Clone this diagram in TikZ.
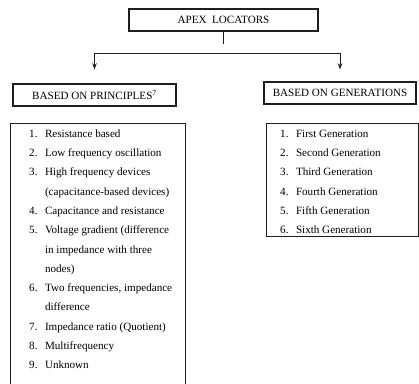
\documentclass[tikz,border=0pt]{standalone}
\usepackage{fontspec}
\setmainfont{Liberation Serif}
\usepackage{tikz}
\usetikzlibrary{arrows.meta,positioning,calc}
\definecolor{ink}{RGB}{30,30,30}
\tikzset{
  head/.style={draw=ink,line width=1.1pt,inner sep=0pt,font=\fontsize{11.1}{13}\selectfont},
  listbox/.style={draw=ink,line width=1pt,anchor=north west,inner sep=0pt},
  items/.style={anchor=north west,inner sep=0pt,font=\fontsize{11.1}{19.3}\selectfont,align=left},
  arr/.style={-{Stealth[length=2.2mm,width=1.6mm]},line width=0.9pt,ink},
  link/.style={line width=0.9pt,ink},
}

\begin{document}
\begin{tikzpicture}[x=1pt,y=-1pt]
  \path[use as bounding box,clip] (0,0) rectangle (419,383);
  % headings
  \node[head,minimum width=189pt,minimum height=22pt] (apex) at (223.5,20) {APEX\ \ LOCATORS};
  \node[head,minimum width=163pt,minimum height=22pt] (prin) at (94.5,95) {BASED ON PRINCIPLES\textsuperscript{7}};
  \node[head,minimum width=152pt,minimum height=22pt] (gen) at (340,93) {BASED ON GENERATIONS};
  % branching
  \coordinate (split) at ($(apex.south)+(0,22)$);
  \draw[link] (apex.south) -- ++(0,12);
  \draw[arr,shorten >=14pt] (split) -| (prin.north);
  \draw[arr,shorten >=12pt] (split) -| (gen.north);
  % lists
  \node[listbox,minimum width=175pt,minimum height=280pt] (plist) at (10,123) {};
  \node[listbox,minimum width=152pt,minimum height=113pt] (glist) at (266,123) {};
  \node[items] (pitems) at ($(plist.north west)+(19,0.5)$) {%
    \begin{tabular}{@{}l@{\hspace{7.5pt}}l@{}}
      1. & Resistance based\\
      2. & Low frequency oscillation\\
      3. & High frequency devices\\
         & (capacitance-based devices)\\
      4. & Capacitance and resistance\\
      5. & Voltage gradient (difference\\
         & in impedance with three\\
         & nodes)\\
      6. & Two frequencies, impedance\\
         & difference\\
      7. & Impedance ratio (Quotient)\\
      8. & Multifrequency\\
      9. & Unknown
    \end{tabular}};
  \node[items] (gitems) at ($(glist.north west)+(14,0.5)$) {%
    \begin{tabular}{@{}l@{\hspace{7.5pt}}l@{}}
      1. & First Generation\\
      2. & Second Generation\\
      3. & Third Generation\\
      4. & Fourth Generation\\
      5. & Fifth Generation\\
      6. & Sixth Generation
    \end{tabular}};
\end{tikzpicture}
\end{document}
